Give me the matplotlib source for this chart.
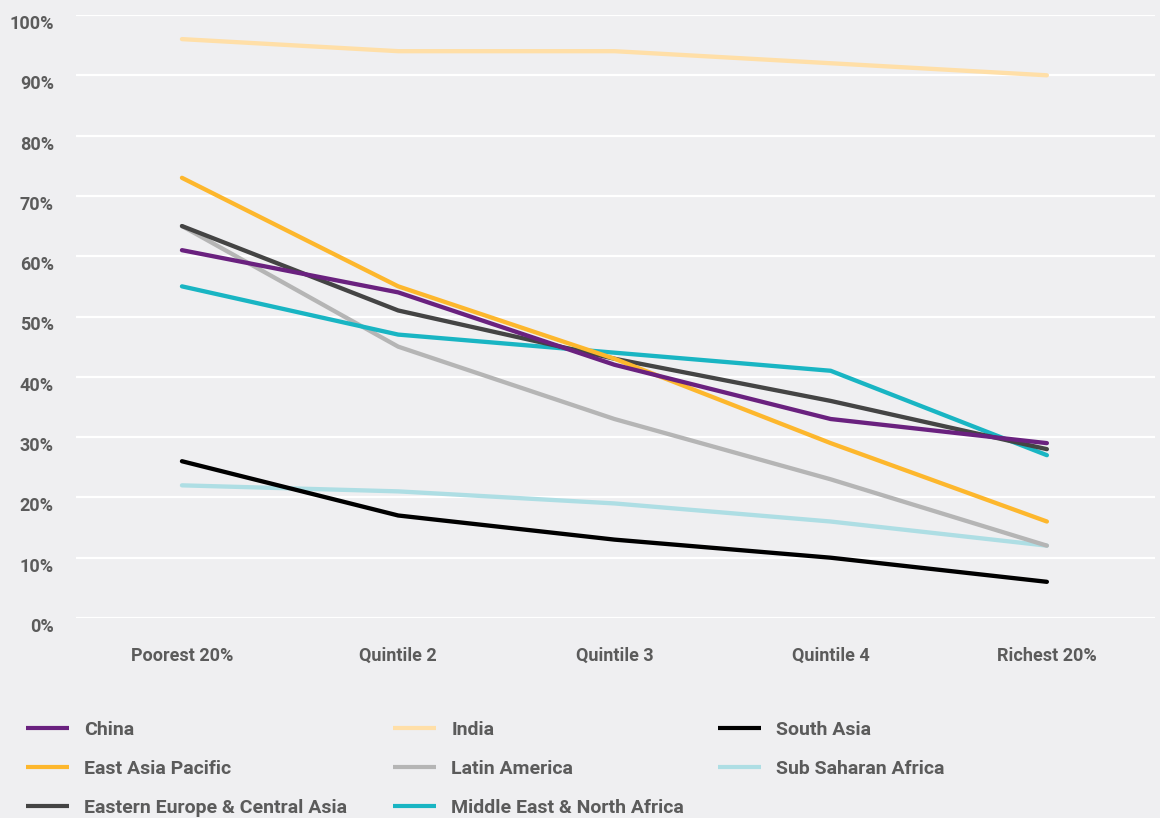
import matplotlib
matplotlib.use('Agg')
import matplotlib.pyplot as plt
import matplotlib.transforms as mtransforms

# Categories along the x axis
quintiles = ['Poorest 20%', 'Quintile 2', 'Quintile 3', 'Quintile 4', 'Richest 20%']

# Series values (%)
china = [61, 54, 42, 33, 29]
india = [96, 94, 94, 92, 90]
south_asia = [26, 17, 13, 10, 6]
east_asia_pacific = [73, 55, 43, 29, 16]
latin_america = [65, 45, 33, 23, 12]
sub_saharan_africa = [22, 21, 19, 16, 12]
eastern_europe = [65, 51, 43, 36, 28]
mena = [55, 47, 44, 41, 27]

y_ticks = [0, 10, 20, 30, 40, 50, 60, 70, 80, 90, 100]
y_tick_labels = ['0%', '10%', '20%', '30%', '40%', '50%', '60%', '70%', '80%', '90%', '100%']

bg = '#efeff1'
text_color = '#5b5b5b'
plt.rcParams['font.family'] = ['Roboto', 'DejaVu Sans']

fig = plt.figure(figsize=(11.6, 8.18), dpi=100, facecolor=bg)
ax = fig.add_axes([76 / 1160, 1 - 618 / 818, 1079 / 1160, 603 / 818])
ax.set_facecolor(bg)

x = list(range(len(quintiles)))
lw = 3.1
# draw order: back to front roughly as in the reference
series = [
    ('India', india, '#ffdfa8'),
    ('Sub Saharan Africa', sub_saharan_africa, '#aedee4'),
    ('South Asia', south_asia, '#000000'),
    ('Latin America', latin_america, '#b5b5b5'),
    ('Middle East & North Africa', mena, '#19b5c3'),
    ('Eastern Europe & Central Asia', eastern_europe, '#444444'),
    ('East Asia Pacific', east_asia_pacific, '#fdb72d'),
    ('China', china, '#6a217f'),
]
lines = {}
for name, vals, col in series:
    ln, = ax.plot(x, vals, color=col, lw=lw, solid_capstyle='round',
                  solid_joinstyle='round', label=name, zorder=3)
    lines[name] = ln

ax.set_xlim(-0.49, 4.5)
ax.set_ylim(0, 100)
ax.set_yticks(y_ticks)
ax.set_yticklabels(y_tick_labels)
ax.set_xticks(x)
ax.set_xticklabels(quintiles)
ax.grid(axis='y', color='white', lw=1.6, zorder=1)
ax.set_axisbelow(True)
for s in ax.spines.values():
    s.set_visible(False)
ax.tick_params(axis='both', length=0, labelsize=13, labelcolor=text_color)
ax.tick_params(axis='y', pad=16)
ax.tick_params(axis='x', pad=21)
for lab in ax.get_yticklabels() + ax.get_xticklabels():
    lab.set_fontweight('bold')
offset = mtransforms.ScaledTranslation(0, -7 / 100, fig.dpi_scale_trans)
for lab in ax.get_yticklabels():
    lab.set_transform(lab.get_transform() + offset)

# legend: three columns placed like the reference
columns = [
    (26, ['China', 'East Asia Pacific', 'Eastern Europe & Central Asia']),
    (393, ['India', 'Latin America', 'Middle East & North Africa']),
    (718, ['South Asia', 'Sub Saharan Africa']),
]
for xpix, names in columns:
    leg = fig.legend([lines[n] for n in names], names, loc='upper left',
                     bbox_to_anchor=(xpix / 1160, 1 - 721 / 818),
                     frameon=False, borderpad=0, borderaxespad=0,
                     handlelength=2.2, handletextpad=0.8, labelspacing=1.08,
                     prop={'weight': 'bold', 'size': 14})
    for t in leg.get_texts():
        t.set_color(text_color)
    for h in leg.get_lines():
        h.set_linewidth(3.0)
        h.set_solid_capstyle('butt')

fig.savefig('out.png', dpi=100, facecolor=bg)
